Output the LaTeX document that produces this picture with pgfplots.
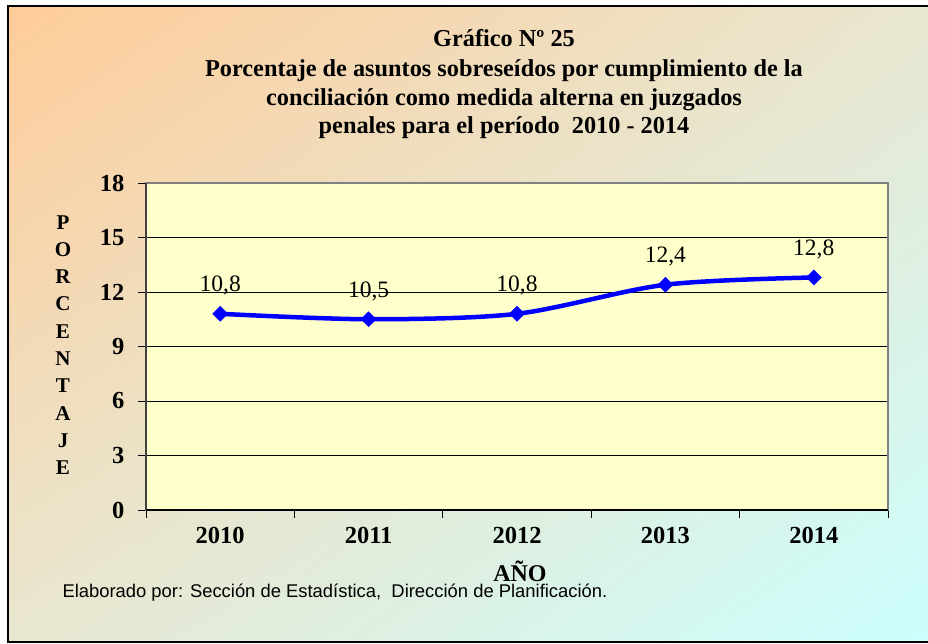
\documentclass[border=0pt]{standalone}
\usepackage{pgfplots}
\pgfplotsset{compat=1.18}
\usetikzlibrary{shadings}
\usepackage{fontspec}
\setmainfont{Liberation Serif}
\newfontfamily\arial{Liberation Sans}
\definecolor{peach}{HTML}{FFCC99}
\definecolor{cyanl}{HTML}{CCFFFF}
\definecolor{midc}{HTML}{E9E6D0}
\definecolor{plotedge}{HTML}{FFFFCC}
\definecolor{plotmid}{HTML}{BCBA94}
\definecolor{lineblue}{HTML}{0000FF}
\begin{document}
\begin{tikzpicture}[x=1pt,y=1pt]
\path[use as bounding box] (0,0) rectangle (928,644);
\fill[white] (0,0) rectangle (928,644);
\shade[upper left=peach, upper right=midc, lower left=midc, lower right=cyanl] (8,2) rectangle (928,638);
\draw[black, line width=1.2pt] (929,638) -- (8,638) -- (8,2) -- (929,2);
\node[anchor=base, font=\fontsize{24.3}{24.3}\selectfont\bfseries] at (504,597) {Gráfico Nº 25};
\node[anchor=base, font=\fontsize{24.3}{24.3}\selectfont\bfseries] at (504,567) {Porcentaje de asuntos sobreseídos por cumplimiento de la};
\node[anchor=base, font=\fontsize{24.3}{24.3}\selectfont\bfseries] at (504,538) {conciliación como medida alterna en juzgados};
\node[anchor=base, font=\fontsize{24.3}{24.3}\selectfont\bfseries] at (504,510) {penales para el período\ \ 2010 - 2014};
\begin{axis}[
  at={(146pt,134pt)}, anchor=south west,
  scale only axis, width=742pt, height=327pt,
  xmin=-0.5, xmax=4.5, ymin=0, ymax=18,
  ytick={0,3,6,9,12,15,18},
  xtick={-0.5,0.5,1.5,2.5,3.5,4.5},
  xticklabels={},
  extra x ticks={0,1,2,3,4},
  extra x tick labels={2010,2011,2012,2013,2014},
  extra x tick style={major tick length=0pt, xticklabel style={yshift=-14pt}},
  xtick pos=bottom, ytick pos=left,
  tick align=outside,
  major tick length=8pt,
  tick style={black, line width=0.8pt},
  ymajorgrids,
  major grid style={black, line width=0.8pt},
  axis line style={draw=gray, line width=1.5pt},
  axis background/.style={shade, left color=plotedge, middle color=plotmid, right color=plotedge},
  ticklabel style={font=\fontsize{24.5}{24.5}\selectfont\bfseries},
  /pgf/number format/assume math mode=true,
  yticklabel style={xshift=-10pt},
  nodes near coords,
  point meta=explicit symbolic,
  every node near coord/.style={anchor=base, yshift=22pt, font=\fontsize{23.5}{23.5}\selectfont, black},
  clip=false,
]
\addplot[lineblue, line width=4.5pt, smooth, mark=square*, mark size=5.3pt, mark options={rotate=45, solid, fill=lineblue, draw=lineblue, line width=0.5pt}]
  coordinates {(0,10.8)[10,8] (1,10.5)[10,5] (2,10.8)[10,8] (3,12.4)[12,4] (4,12.8)[12,8]};
\draw[black!75, line width=1.5pt] (rel axis cs:0,0) -- (rel axis cs:0,1);
\draw[black, line width=1.5pt] (rel axis cs:0,0) -- (rel axis cs:1,0);
\end{axis}
\node[align=center, font=\fontsize{21}{27.3}\selectfont\bfseries, anchor=center] at (63,299) {P\\O\\R\\C\\E\\N\\T\\A\\J\\E};
\node[anchor=base, font=\fontsize{24}{24}\selectfont\bfseries] at (520,62) {AÑO};
\node[anchor=base west, font=\arial\fontsize{18.4}{18.4}\selectfont] at (59,46) {Elaborado por: Sección de Estadística,\ \ Dirección de Planificación.};
\end{tikzpicture}
\end{document}
